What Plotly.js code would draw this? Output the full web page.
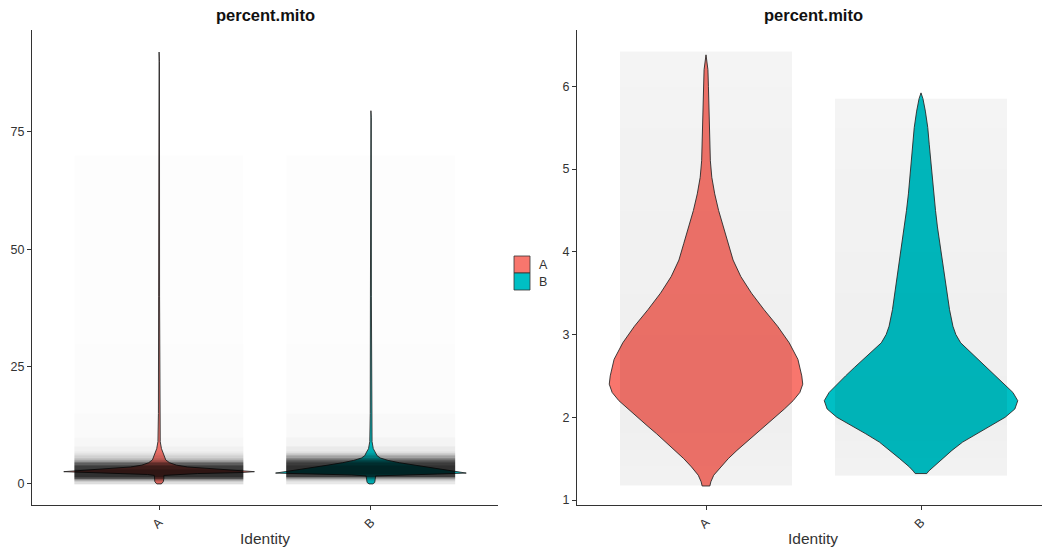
<!DOCTYPE html>
<html><head><meta charset="utf-8">
<script src="https://cdn.plot.ly/plotly-3.0.1.min.js"></script>
<style>html,body{margin:0;padding:0;background:#fff}#chart{width:1042px;height:549px}</style>
</head><body><div id="chart"></div>
<script>
// ---------- data ----------
const identities = ['A', 'B'];
const identityColors = ['#F8766D', '#00BFC4'];
const plotTitle = 'percent.mito';
const axisTitle = 'Identity';
const leftTicks = [0, 25, 50, 75];
const rightTicks = [1, 2, 3, 4, 5, 6];

// Left panel (all cells): violin profile, value levels and relative half-width (1 = widest)
const leftLevelsA = [92, 90, 40, 15, 9, 7.5, 6.8, 6, 5.1, 4.5, 4.0, 3.6, 3.3, 3.0, 2.8, 2.6, 2.4, 2.2, 2.0, 1.8, 1.2, 0.5, 0.1, 0];
const leftWidthA  = [0, 0.004, 0.005, 0.007, 0.012, 0.025, 0.04, 0.055, 0.07, 0.11, 0.18, 0.3, 0.48, 0.7, 0.86, 1.0, 0.85, 0.4, 0.12, 0.05, 0.05, 0.045, 0.03, 0.02];
const leftLevelsB = [79.5, 78, 40, 15, 9, 7.5, 6.8, 6, 5.5, 5, 4.5, 4, 3.5, 3, 2.6, 2.3, 2.1, 1.9, 1.7, 1.0, 0.3, 0];
const leftWidthB  = [0, 0.004, 0.005, 0.007, 0.012, 0.025, 0.045, 0.065, 0.1, 0.18, 0.3, 0.45, 0.6, 0.76, 0.9, 1.0, 0.7, 0.2, 0.05, 0.045, 0.04, 0.02];

// Right panel (zoomed data): violin profile
const rightLevelsA = [6.38, 6.2, 6.0, 5.8, 5.5, 5.3, 5.1, 4.9, 4.7, 4.5, 4.3, 4.1, 3.9, 3.7, 3.5, 3.3, 3.1, 2.9, 2.7, 2.5, 2.4, 2.3, 2.2, 2.1, 2.0, 1.9, 1.8, 1.7, 1.6, 1.5, 1.4, 1.3, 1.22, 1.17];
const rightWidthA  = [0, 0.02, 0.025, 0.03, 0.035, 0.04, 0.045, 0.06, 0.09, 0.13, 0.18, 0.23, 0.28, 0.36, 0.47, 0.6, 0.74, 0.86, 0.95, 0.99, 1.0, 0.97, 0.9, 0.81, 0.71, 0.61, 0.51, 0.41, 0.32, 0.23, 0.15, 0.08, 0.05, 0.04];
const rightLevelsB = [5.92, 5.85, 5.7, 5.5, 5.3, 5.1, 4.9, 4.7, 4.5, 4.3, 4.1, 3.9, 3.7, 3.5, 3.3, 3.1, 3.0, 2.9, 2.8, 2.7, 2.6, 2.5, 2.4, 2.3, 2.2, 2.1, 2.0, 1.9, 1.8, 1.7, 1.6, 1.5, 1.4, 1.35, 1.32];
const rightWidthB  = [0, 0.02, 0.045, 0.07, 0.085, 0.1, 0.115, 0.13, 0.15, 0.17, 0.195, 0.22, 0.245, 0.27, 0.295, 0.33, 0.36, 0.41, 0.5, 0.6, 0.69, 0.78, 0.87, 0.95, 1.0, 0.97, 0.87, 0.72, 0.57, 0.43, 0.32, 0.22, 0.12, 0.08, 0.06];

// Jittered cells, summarised as point density per value bin (0..1)
const leftBinEdges = [0, 0.5, 1, 1.5, 2, 3, 4, 4.5, 5, 5.5, 6, 6.5, 7, 8, 10, 15, 30, 50, 70];
const leftDensityA = [0.15, 0.35, 0.75, 0.9, 0.9, 0.85, 0.7, 0.45, 0.3, 0.2, 0.14, 0.09, 0.06, 0.035, 0.02, 0.012, 0.01, 0.008];
const leftDensityB = [0.1, 0.2, 0.45, 0.85, 0.9, 0.9, 0.85, 0.75, 0.6, 0.4, 0.25, 0.14, 0.09, 0.05, 0.025, 0.014, 0.01, 0.008];
const rightBinEdgesA = [1.17, 1.4, 1.6, 1.8, 2.0, 2.5, 3.0, 3.5, 4.0, 4.5, 5.0, 5.5, 6.0, 6.42];
const rightDensityA  = [0.055, 0.06, 0.065, 0.07, 0.07, 0.07, 0.065, 0.062, 0.06, 0.057, 0.055, 0.052, 0.05];
const rightBinEdgesB = [1.3, 1.5, 1.7, 1.9, 2.1, 2.5, 3.0, 3.5, 4.0, 4.5, 5.0, 5.5, 5.85];
const rightDensityB  = [0.055, 0.06, 0.065, 0.07, 0.07, 0.067, 0.064, 0.06, 0.057, 0.055, 0.052, 0.05];

// ---------- construction ----------
const W = 1042, H = 549;
const halfViolin = 0.45, halfJitter = 0.4;
const px = v => v / W, py = v => 1 - v / H;
const font = 'Liberation Sans, Arial, Helvetica, sans-serif';

function violinTrace(levels, widths, idx, xa, ya) {
  const c = idx + 1;
  const xs = [], ys = [];
  for (let i = 0; i < levels.length; i++) { xs.push(c + widths[i] * halfViolin); ys.push(levels[i]); }
  for (let i = levels.length - 1; i >= 0; i--) { xs.push(c - widths[i] * halfViolin); ys.push(levels[i]); }
  return {type: 'scatter', mode: 'lines', x: xs, y: ys, fill: 'toself', fillcolor: identityColors[idx],
    line: {color: '#2b2b2b', width: 0.9}, xaxis: xa, yaxis: ya, hoverinfo: 'skip', showlegend: false, name: identities[idx]};
}
function jitterTrace(edges, dens, idx, xa, ya) {
  const c = idx + 1;
  return {type: 'heatmap', x: [c - halfJitter, c, c + halfJitter], y: edges, z: dens.map(d => [d, d]),
    zmin: 0, zmax: 1, showscale: false, hoverinfo: 'skip', zsmooth: false,
    colorscale: [[0, 'rgba(0,0,0,0)'], [1, 'rgba(0,0,0,0.9)']], xaxis: xa, yaxis: ya};
}

const traces = [
  violinTrace(leftLevelsA, leftWidthA, 0, 'x', 'y'),
  violinTrace(leftLevelsB, leftWidthB, 1, 'x', 'y'),
  violinTrace(rightLevelsA, rightWidthA, 0, 'x2', 'y2'),
  violinTrace(rightLevelsB, rightWidthB, 1, 'x2', 'y2'),
  jitterTrace(leftBinEdges, leftDensityA, 0, 'x3', 'y3'),
  jitterTrace(leftBinEdges, leftDensityB, 1, 'x3', 'y3'),
  jitterTrace(rightBinEdgesA, rightDensityA, 0, 'x4', 'y4'),
  jitterTrace(rightBinEdgesB, rightDensityB, 1, 'x4', 'y4')
];

const yDomain = [py(505), py(30)];
const leftXRange = [0.4, 2.6];
const rightXRange = [0.4, 0.4 + (1042 - 577) / 215];
const leftYRange = [-4.5, 96.7];
const rightYRange = [0.94, 6.68];

const baseX = {showline: true, linecolor: '#333', linewidth: 1.1, ticks: 'outside', ticklen: 4, tickcolor: '#333',
  tickvals: [1, 2], ticktext: identities, tickangle: -45, tickfont: {family: font, size: 12.5, color: '#333'},
  showgrid: false, zeroline: false, fixedrange: true};
const baseY = {showline: true, linecolor: '#333', linewidth: 1.1, ticks: 'outside', ticklen: 4, tickcolor: '#333',
  tickfont: {family: font, size: 12.5, color: '#333'}, showgrid: false, zeroline: false, fixedrange: true, domain: yDomain};

const annotations = [];
const shapes = [];
[265, 813].forEach(cx => {
  annotations.push({xref: 'paper', yref: 'paper', x: px(cx), y: py(15), text: '<b>' + plotTitle + '</b>', showarrow: false,
    xanchor: 'center', yanchor: 'middle', font: {family: font, size: 16.5, color: '#111'}});
  annotations.push({xref: 'paper', yref: 'paper', x: px(cx), y: py(538), text: axisTitle, showarrow: false,
    xanchor: 'center', yanchor: 'middle', font: {family: font, size: 15.5, color: '#333'}});
});
identities.forEach((id, i) => {
  shapes.push({type: 'rect', xref: 'paper', yref: 'paper', x0: px(514), x1: px(530), y0: py(256 + 17 * i), y1: py(273 + 17 * i),
    fillcolor: identityColors[i], line: {color: '#333', width: 0.8}});
  annotations.push({xref: 'paper', yref: 'paper', x: px(537), y: py(264.5 + 17 * i), text: id, showarrow: false,
    xanchor: 'left', yanchor: 'middle', font: {family: font, size: 12.5, color: '#333'}});
});

const layout = {
  width: W, height: H, margin: {l: 0, r: 0, t: 0, b: 0}, paper_bgcolor: '#fff', plot_bgcolor: 'rgba(0,0,0,0)',
  showlegend: false,
  xaxis: Object.assign({}, baseX, {domain: [px(32), px(498)], range: leftXRange, anchor: 'y'}),
  yaxis: Object.assign({}, baseY, {range: leftYRange, tickvals: leftTicks, anchor: 'x'}),
  xaxis2: Object.assign({}, baseX, {domain: [px(577), 1], range: rightXRange, anchor: 'y2'}),
  yaxis2: Object.assign({}, baseY, {range: rightYRange, tickvals: rightTicks, anchor: 'x2'}),
  xaxis3: {overlaying: 'x', range: leftXRange, visible: false, anchor: 'y3', fixedrange: true},
  yaxis3: {overlaying: 'y', range: leftYRange, visible: false, anchor: 'x3', fixedrange: true},
  xaxis4: {overlaying: 'x2', range: rightXRange, visible: false, anchor: 'y4', fixedrange: true},
  yaxis4: {overlaying: 'y2', range: rightYRange, visible: false, anchor: 'x4', fixedrange: true},
  annotations: annotations, shapes: shapes
};
Plotly.newPlot('chart', traces, layout, {displayModeBar: false, staticPlot: true});
</script></body></html>
